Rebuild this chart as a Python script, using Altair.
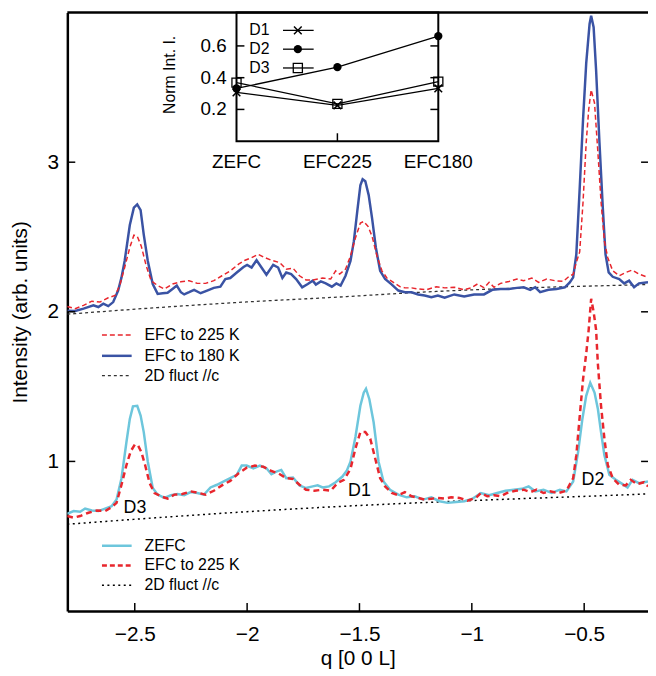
import altair as alt
import pandas as pd

FONT = "Liberation Sans"
RED = "#e8262d"
BLUE = "#3a53a4"
CYAN = "#6dc6dc"

# ---------------- data ----------------
x_ticks = [-2.5, -2.0, -1.5, -1.0, -0.5]
y_ticks = [1, 2, 3]

efc180_up = [(-2.800, 2.008), (-2.765, 2.005), (-2.728, 2.021), (-2.684, 2.043), (-2.662, 2.032),
    (-2.640, 2.054), (-2.618, 2.038), (-2.596, 2.065), (-2.574, 2.142), (-2.559, 2.230), (-2.545, 2.340),
    (-2.522, 2.580), (-2.504, 2.696), (-2.489, 2.718), (-2.474, 2.680), (-2.460, 2.516), (-2.442, 2.340),
    (-2.420, 2.186), (-2.398, 2.120), (-2.376, 2.124), (-2.354, 2.127), (-2.332, 2.153), (-2.313, 2.175),
    (-2.295, 2.131), (-2.280, 2.116), (-2.258, 2.131), (-2.236, 2.147), (-2.207, 2.124), (-2.178, 2.142),
    (-2.148, 2.160), (-2.119, 2.168), (-2.097, 2.219), (-2.075, 2.226), (-2.046, 2.263), (-2.016, 2.300),
    (-2.000, 2.314), (-1.980, 2.296), (-1.958, 2.345), (-1.936, 2.296), (-1.914, 2.248), (-1.884, 2.314),
    (-1.862, 2.296), (-1.843, 2.226), (-1.826, 2.263), (-1.804, 2.252), (-1.782, 2.219), (-1.755, 2.164),
    (-1.730, 2.186), (-1.708, 2.208), (-1.694, 2.182), (-1.672, 2.203), (-1.650, 2.190), (-1.623, 2.168),
    (-1.603, 2.190), (-1.584, 2.175), (-1.562, 2.241), (-1.540, 2.340), (-1.525, 2.472), (-1.510, 2.670),
    (-1.496, 2.846), (-1.486, 2.886), (-1.474, 2.873), (-1.459, 2.780), (-1.444, 2.626), (-1.427, 2.428),
    (-1.408, 2.274), (-1.386, 2.219), (-1.356, 2.182), (-1.327, 2.142), (-1.298, 2.131), (-1.268, 2.131),
    (-1.239, 2.116), (-1.210, 2.109), (-1.180, 2.098), (-1.151, 2.109), (-1.121, 2.094), (-1.078, 2.116),
    (-1.034, 2.102), (-0.990, 2.116), (-0.946, 2.116), (-0.909, 2.147), (-0.872, 2.153), (-0.835, 2.153),
    (-0.799, 2.160), (-0.769, 2.164), (-0.740, 2.147), (-0.718, 2.164), (-0.696, 2.131), (-0.659, 2.147),
    (-0.623, 2.153), (-0.586, 2.164), (-0.564, 2.197), (-0.549, 2.230), (-0.535, 2.384), (-0.520, 2.824),
    (-0.505, 3.286), (-0.491, 3.660), (-0.476, 3.924), (-0.469, 3.979), (-0.458, 3.902), (-0.447, 3.616),
    (-0.432, 3.132), (-0.417, 2.692), (-0.405, 2.384), (-0.391, 2.263), (-0.373, 2.234), (-0.344, 2.219),
    (-0.322, 2.190), (-0.300, 2.208), (-0.278, 2.164), (-0.256, 2.190), (-0.216, 2.197)]

efc225_up = [(-2.801, 2.036), (-2.765, 2.021), (-2.728, 2.043), (-2.691, 2.071), (-2.655, 2.065),
    (-2.618, 2.094), (-2.588, 2.109), (-2.567, 2.175), (-2.545, 2.296), (-2.522, 2.430), (-2.504, 2.512),
    (-2.489, 2.505), (-2.471, 2.439), (-2.449, 2.307), (-2.427, 2.208), (-2.398, 2.175), (-2.368, 2.153),
    (-2.332, 2.186), (-2.295, 2.201), (-2.258, 2.208), (-2.222, 2.190), (-2.185, 2.190), (-2.148, 2.208),
    (-2.112, 2.241), (-2.075, 2.274), (-2.038, 2.318), (-2.009, 2.345), (-1.980, 2.362), (-1.950, 2.384),
    (-1.921, 2.362), (-1.892, 2.345), (-1.855, 2.329), (-1.826, 2.285), (-1.796, 2.292), (-1.767, 2.241),
    (-1.738, 2.213), (-1.708, 2.213), (-1.664, 2.226), (-1.628, 2.219), (-1.606, 2.274), (-1.588, 2.252),
    (-1.562, 2.285), (-1.540, 2.373), (-1.518, 2.494), (-1.496, 2.593), (-1.481, 2.604), (-1.462, 2.571),
    (-1.444, 2.505), (-1.422, 2.373), (-1.400, 2.274), (-1.378, 2.226), (-1.349, 2.197), (-1.320, 2.168),
    (-1.298, 2.160), (-1.268, 2.160), (-1.239, 2.153), (-1.202, 2.147), (-1.158, 2.168), (-1.121, 2.160),
    (-1.078, 2.164), (-1.034, 2.147), (-1.004, 2.160), (-0.975, 2.186), (-0.945, 2.160), (-0.923, 2.197),
    (-0.901, 2.164), (-0.872, 2.190), (-0.835, 2.203), (-0.799, 2.219), (-0.769, 2.208), (-0.733, 2.226),
    (-0.703, 2.197), (-0.667, 2.219), (-0.630, 2.208), (-0.593, 2.203), (-0.564, 2.241), (-0.549, 2.250),
    (-0.535, 2.330), (-0.520, 2.400), (-0.505, 2.736), (-0.491, 3.132), (-0.480, 3.350), (-0.469, 3.484),
    (-0.454, 3.396), (-0.439, 3.066), (-0.425, 2.736), (-0.410, 2.472), (-0.395, 2.362), (-0.373, 2.274),
    (-0.344, 2.241), (-0.315, 2.263), (-0.286, 2.279), (-0.256, 2.252), (-0.216, 2.230)]

zefc_lo = [(-2.801, 0.650), (-2.772, 0.668), (-2.743, 0.663), (-2.721, 0.685), (-2.691, 0.672),
    (-2.662, 0.668), (-2.632, 0.685), (-2.603, 0.701), (-2.581, 0.745), (-2.559, 0.888), (-2.537, 1.130),
    (-2.522, 1.284), (-2.508, 1.368), (-2.489, 1.372), (-2.474, 1.306), (-2.460, 1.196), (-2.442, 0.998),
    (-2.420, 0.822), (-2.398, 0.778), (-2.368, 0.756), (-2.339, 0.774), (-2.310, 0.782), (-2.280, 0.774),
    (-2.251, 0.795), (-2.222, 0.789), (-2.192, 0.778), (-2.163, 0.826), (-2.134, 0.844), (-2.104, 0.866),
    (-2.075, 0.888), (-2.046, 0.910), (-2.024, 0.972), (-2.002, 0.972), (-1.972, 0.954), (-1.943, 0.972),
    (-1.914, 0.954), (-1.892, 0.914), (-1.870, 0.932), (-1.848, 0.943), (-1.826, 0.888), (-1.796, 0.892),
    (-1.767, 0.840), (-1.738, 0.822), (-1.708, 0.833), (-1.686, 0.840), (-1.664, 0.826), (-1.635, 0.833),
    (-1.606, 0.861), (-1.576, 0.899), (-1.556, 0.940), (-1.540, 0.998), (-1.518, 1.163), (-1.496, 1.372),
    (-1.481, 1.460), (-1.471, 1.486), (-1.456, 1.416), (-1.437, 1.262), (-1.415, 0.998), (-1.393, 0.866),
    (-1.364, 0.811), (-1.327, 0.778), (-1.290, 0.760), (-1.254, 0.767), (-1.217, 0.745), (-1.180, 0.760),
    (-1.144, 0.734), (-1.107, 0.723), (-1.070, 0.729), (-1.033, 0.734), (-0.997, 0.751), (-0.960, 0.789),
    (-0.923, 0.774), (-0.887, 0.789), (-0.850, 0.804), (-0.813, 0.811), (-0.777, 0.817), (-0.747, 0.833),
    (-0.718, 0.800), (-0.681, 0.811), (-0.645, 0.789), (-0.608, 0.811), (-0.579, 0.800), (-0.549, 0.866),
    (-0.527, 1.064), (-0.508, 1.284), (-0.491, 1.438), (-0.473, 1.526), (-0.454, 1.460), (-0.439, 1.350),
    (-0.425, 1.196), (-0.410, 1.042), (-0.388, 0.910), (-0.359, 0.877), (-0.329, 0.848), (-0.307, 0.826),
    (-0.285, 0.877), (-0.256, 0.855), (-0.216, 0.866)]

efc225_lo = [(-2.801, 0.635), (-2.772, 0.624), (-2.743, 0.635), (-2.706, 0.657), (-2.669, 0.672),
    (-2.632, 0.668), (-2.603, 0.694), (-2.581, 0.723), (-2.559, 0.844), (-2.537, 0.976), (-2.518, 1.068),
    (-2.500, 1.112), (-2.486, 1.108), (-2.471, 1.064), (-2.454, 0.976), (-2.434, 0.855), (-2.412, 0.789),
    (-2.383, 0.767), (-2.354, 0.751), (-2.324, 0.778), (-2.288, 0.782), (-2.251, 0.800), (-2.214, 0.789),
    (-2.185, 0.778), (-2.148, 0.804), (-2.112, 0.840), (-2.075, 0.870), (-2.038, 0.921), (-2.002, 0.958),
    (-1.965, 0.972), (-1.928, 0.965), (-1.892, 0.936), (-1.862, 0.921), (-1.826, 0.888), (-1.796, 0.883),
    (-1.767, 0.844), (-1.738, 0.811), (-1.701, 0.804), (-1.664, 0.811), (-1.628, 0.804), (-1.598, 0.855),
    (-1.569, 0.877), (-1.540, 0.950), (-1.518, 1.086), (-1.496, 1.196), (-1.474, 1.196), (-1.452, 1.152),
    (-1.430, 1.020), (-1.408, 0.888), (-1.386, 0.833), (-1.356, 0.789), (-1.327, 0.774), (-1.298, 0.795),
    (-1.268, 0.767), (-1.239, 0.756), (-1.210, 0.745), (-1.180, 0.751), (-1.151, 0.756), (-1.121, 0.751),
    (-1.092, 0.760), (-1.055, 0.756), (-1.019, 0.738), (-0.982, 0.756), (-0.960, 0.789), (-0.931, 0.767),
    (-0.901, 0.774), (-0.872, 0.767), (-0.843, 0.789), (-0.806, 0.804), (-0.769, 0.811), (-0.740, 0.795),
    (-0.711, 0.811), (-0.681, 0.789), (-0.652, 0.800), (-0.615, 0.789), (-0.579, 0.804), (-0.549, 0.888),
    (-0.535, 1.042), (-0.520, 1.300), (-0.505, 1.550), (-0.491, 1.720), (-0.480, 1.880), (-0.469, 2.087),
    (-0.458, 2.000), (-0.447, 1.880), (-0.439, 1.650), (-0.425, 1.372), (-0.410, 1.152), (-0.395, 0.976),
    (-0.373, 0.888), (-0.344, 0.844), (-0.315, 0.840), (-0.293, 0.877), (-0.264, 0.848), (-0.234, 0.861),
    (-0.216, 0.833)]

fluct_up = [(-2.8, 1.984), (-2.4, 2.028), (-2.0, 2.066), (-1.6, 2.098), (-1.2, 2.133), (-0.8, 2.158),
    (-0.4, 2.175), (-0.216, 2.182)]
fluct_lo = [(-2.8, 0.580), (-2.4, 0.624), (-2.0, 0.664), (-1.6, 0.698), (-1.2, 0.726), (-0.8, 0.750),
    (-0.4, 0.772), (-0.216, 0.783)]

peak_q = [-2.499, -1.50, -0.461]
peak_I = [0.69, 0.80, 0.875]
peak_lab = ["D3", "D1", "D2"]

inset_cats = ["ZEFC", "EFC225", "EFC180"]
d1 = [0.307, 0.225, 0.332]
d2 = [0.332, 0.466, 0.662]
d3 = [0.369, 0.235, 0.375]
inset_y_ticks = [0.2, 0.4, 0.6]

# ---------------- layout ----------------
W, H = 587, 605
QMIN, QMAX = -2.8, -0.216
xsc = alt.Scale(domain=[QMIN, QMAX], nice=False, zero=False)
ysc = alt.Scale(domain=[0, 4], nice=False, zero=False)

xax = alt.Axis(values=x_ticks, format="~g", ticks=False, grid=False, domainColor="black",
               domainWidth=2.5, labelFontSize=21, labelColor="black", labelPadding=13,
               labelFlush=False, title="q [0 0 L]", titleFontSize=21, titleFontWeight="normal",
               titleColor="black", titlePadding=3)
yax = alt.Axis(values=y_ticks, format="d", ticks=False, grid=False, domainColor="black",
               domainWidth=2.5, labelFontSize=21, labelColor="black", labelPadding=9,
               title="Intensity (arb. units)", titleFontSize=21, titleFontWeight="normal",
               titleColor="black", titlePadding=17)


def X(field=None, datum=None):
    if datum is not None:
        return alt.X(datum=datum, scale=xsc, axis=xax)
    return alt.X(field, type="quantitative", scale=xsc, axis=xax)


def Y(field=None, datum=None):
    if datum is not None:
        return alt.Y(datum=datum, scale=ysc, axis=yax)
    return alt.Y(field, type="quantitative", scale=ysc, axis=yax)


def curve(pairs, color, width, dash=None, interp="linear"):
    kw = dict(color=color, strokeWidth=width, clip=True, interpolate=interp)
    if dash:
        kw["strokeDash"] = dash
    d = pd.DataFrame(pairs, columns=["q", "I"])
    return alt.Chart(d).mark_line(**kw).encode(x=X("q"), y=Y("I"))


one = pd.DataFrame({"k": [0]})

main_layers = [
    curve(fluct_lo, "black", 1.5, [2, 3.5], "monotone"),
    curve(zefc_lo, CYAN, 2.5),
    curve(efc225_lo, RED, 2.5, [6, 4]),
    curve(fluct_up, "#333333", 1.3, [3, 3], "monotone"),
    curve(efc180_up, BLUE, 2.5),
    curve(efc225_up, RED, 1.5, [5, 3]),
]

ytd = pd.DataFrame({"v": y_ticks})
xtd = pd.DataFrame({"v": x_ticks})
main_layers += [
    alt.Chart(ytd).mark_rule(color="black", strokeWidth=1.5, x2Offset=8).encode(
        x=X(datum=QMIN), x2=alt.X2(datum=QMIN), y=Y("v")),
    alt.Chart(ytd).mark_rule(color="black", strokeWidth=1.5, x2Offset=-7).encode(
        x=X(datum=QMAX), x2=alt.X2(datum=QMAX), y=Y("v")),
    alt.Chart(xtd).mark_rule(color="black", strokeWidth=1.5, y2Offset=-8).encode(
        x=X("v"), y=Y(datum=0), y2=alt.Y2(datum=0)),
    alt.Chart(one).mark_rule(color="black", strokeWidth=2.5).encode(
        x=X(datum=QMIN), x2=alt.X2(datum=QMAX), y=Y(datum=4)),
]

ann = pd.DataFrame({"q": peak_q, "I": peak_I, "t": peak_lab})
main_layers.append(
    alt.Chart(ann).mark_text(fontSize=18, color="black", baseline="middle").encode(
        x=X("q"), y=Y("I"), text="t:N"))

# legends (layout, in pixels of the plot area)
legend_rows = [
    ("EFC to 225 K", RED, 1.5, [5, 3], 326),
    ("EFC to 180 K", BLUE, 2.5, None, 347),
    ("2D fluct //c", "#333333", 1.3, [3, 3], 367),
    ("ZEFC", CYAN, 2.5, None, 539),
    ("EFC to 225 K", RED, 2.5, [5, 3], 559),
    ("2D fluct //c", "black", 1.5, [2, 3.5], 579),
]
for lab, col, sw, dash, yy in legend_rows:
    kw = dict(color=col, strokeWidth=sw)
    if dash:
        kw["strokeDash"] = dash
    main_layers.append(alt.Chart(one).mark_rule(**kw).encode(
        x=alt.value(35), x2=alt.value(65), y=alt.value(yy)))
    main_layers.append(alt.Chart(one).mark_text(
        align="left", baseline="middle", fontSize=16, color="black", text=lab).encode(
        x=alt.value(78), y=alt.value(yy)))

main = alt.layer(*main_layers)

# ---------------- inset ----------------
ixs = alt.Scale(domain=[0, 2], range=[171, 375], nice=False, zero=False)
iys = alt.Scale(domain=[0, 0.81], range=[130, 0], nice=False, zero=False)


def IX(field=None, datum=None):
    if datum is not None:
        return alt.X(datum=datum, scale=ixs, axis=None)
    return alt.X(field, type="quantitative", scale=ixs, axis=None)


def IY(field=None, datum=None):
    if datum is not None:
        return alt.Y(datum=datum, scale=iys, axis=None)
    return alt.Y(field, type="quantitative", scale=iys, axis=None)


rows = []
for name, vals in (("D1", d1), ("D2", d2), ("D3", d3)):
    for i, v in enumerate(vals):
        rows.append({"i": i, "v": v, "s": name})
ins = pd.DataFrame(rows)

XPATH = "M-1,-1L1,1M-1,1L1,-1"
pt_style = {
    "D1": dict(shape=XPATH, size=60, filled=False, color="black", strokeWidth=1.5, opacity=1),
    "D2": dict(shape="circle", size=70, filled=True, color="black", opacity=1),
    "D3": dict(shape="square", size=85, filled=False, color="black", strokeWidth=1.3, opacity=1),
}

inset_layers = [
    alt.Chart(one).mark_rect(fillOpacity=0, stroke="black", strokeWidth=2).encode(
        x=IX(datum=0), x2=alt.X2(datum=2), y=IY(datum=0), y2=alt.Y2(datum=0.81)),
    alt.Chart(ins).mark_line(color="black", strokeWidth=1.3).encode(
        x=IX("i"), y=IY("v"), detail="s:N"),
]
for name in ("D1", "D3", "D2"):
    inset_layers.append(alt.Chart(ins).transform_filter(alt.datum.s == name)
                        .mark_point(**pt_style[name]).encode(x=IX("i"), y=IY("v")))

ity = pd.DataFrame({"v": inset_y_ticks, "lab": [f"{v:.1f}" for v in inset_y_ticks]})
itx = pd.DataFrame({"i": list(range(len(inset_cats))), "lab": inset_cats})
inset_layers += [
    alt.Chart(ity).mark_rule(color="black", strokeWidth=1.5, x2Offset=8).encode(
        x=IX(datum=0), x2=alt.X2(datum=0), y=IY("v")),
    alt.Chart(ity).mark_rule(color="black", strokeWidth=1.5, x2Offset=-8).encode(
        x=IX(datum=2), x2=alt.X2(datum=2), y=IY("v")),
    alt.Chart(itx[itx.i == 1]).mark_rule(color="black", strokeWidth=1.5, y2Offset=-8).encode(
        x=IX("i"), y=IY(datum=0), y2=alt.Y2(datum=0)),
    alt.Chart(ity).mark_text(align="right", baseline="middle", dx=-10, fontSize=19,
                             color="black").encode(x=IX(datum=0), y=IY("v"), text="lab:N"),
    alt.Chart(itx).mark_text(align="center", baseline="middle", dy=21, fontSize=19,
                             color="black").encode(x=IX("i"), y=IY(datum=0), text="lab:N"),
    alt.Chart(one).mark_text(angle=270, align="center", baseline="middle", fontSize=16,
                             color="black", text="Norm Int. I.").encode(
        x=alt.value(104), y=alt.value(63)),
]

for name, yy in (("D1", 18), ("D2", 37), ("D3", 56)):
    inset_layers.append(alt.Chart(one).mark_rule(color="black", strokeWidth=1.3).encode(
        x=alt.value(218), x2=alt.value(249), y=alt.value(yy)))
    inset_layers.append(alt.Chart(one).mark_point(**pt_style[name]).encode(
        x=alt.value(233), y=alt.value(yy)))
    inset_layers.append(alt.Chart(one).mark_text(
        align="left", baseline="middle", fontSize=16, color="black", text=name).encode(
        x=alt.value(184), y=alt.value(yy)))

inset = alt.layer(*inset_layers)

chart = (
    alt.layer(main, inset)
    .resolve_scale(x="independent", y="independent")
    .properties(width=W, height=H, autosize=alt.AutoSizeParams(type="none"),
                padding={"left": 60, "top": 1, "right": 0, "bottom": 58})
    .configure(font=FONT)
    .configure_view(stroke=None)
)

chart.save("out.html", embed_options={"renderer": "svg", "actions": False})
